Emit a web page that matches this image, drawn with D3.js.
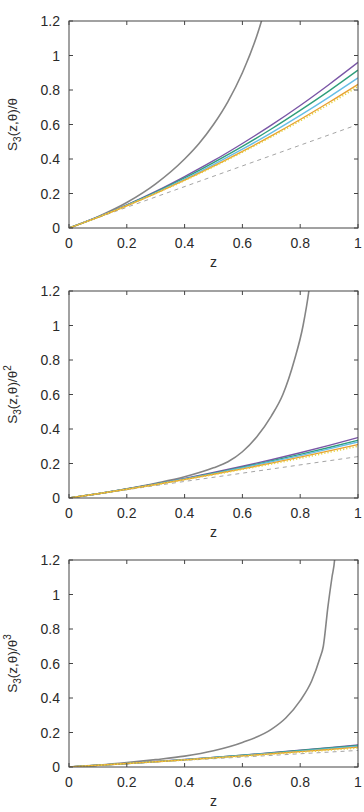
<!DOCTYPE html>
<html>
<head>
<meta charset="utf-8">
<script src="https://cdn.jsdelivr.net/npm/d3@7"></script>
<style>
  body { margin: 0; background: #fff; }
  text { font-family: "Liberation Sans", Arial, sans-serif; fill: #2a2a2a; }
</style>
</head>
<body>
<svg id="chart" width="364" height="812"></svg>
<script>
// z grid shared by the coloured curves
const zGrid = [0, 0.1, 0.2, 0.3, 0.4, 0.5, 0.6, 0.7, 0.8, 0.9, 1.0]
const xTicks = [0, 0.2, 0.4, 0.6, 0.8, 1]
const yTicks = [0, 0.2, 0.4, 0.6, 0.8, 1, 1.2]
const xTickLabels = ['0', '0.2', '0.4', '0.6', '0.8', '1']
const yTickLabels = ['0', '0.2', '0.4', '0.6', '0.8', '1', '1.2']
const powers = ['', '2', '3']

// panel 1 : S3/theta
const p1Purple = [0, .064, .134, .212, .298, .39, .49, .596, .71, .832, .96]
const p1Green  = [0, .063, .133, .208, .29, .379, .473, .574, .682, .795, .915]
const p1Blue   = [0, .063, .131, .204, .283, .368, .457, .552, .653, .759, .87]
const p1Orange = [0, .062, .129, .201, .277, .358, .444, .534, .629, .729, .833]
const p1Yellow = [0, .062, .129, .2, .275, .355, .439, .528, .621, .718, .82]
const p1GrayZ  = [0, .1, .2, .3, .4, .45, .5, .55, .6, .65, .7]
const p1Gray   = [0, .066, .148, .256, .4, .49, .6, .733, .9, 1.114, 1.4]
const p1Dashed = [0, 0.6]

// panel 2 : S3/theta^2
const p2Purple = [0, .025, .052, .082, .114, .148, .184, .222, .262, .305, .35]
const p2Green  = [0, .025, .052, .081, .111, .144, .178, .215, .253, .293, .335]
const p2Blue   = [0, .025, .051, .08, .11, .141, .175, .21, .246, .285, .325]
const p2Orange = [0, .025, .051, .078, .107, .138, .169, .202, .237, .273, .31]
const p2Yellow = [0, .025, .05, .077, .106, .135, .166, .197, .23, .265, .30]
const p2GrayZ  = [0, .1, .2, .3, .4, .5, .55, .6, .65, .7, .74, .78, .81, .83, .85]
const p2Gray   = [0, .025, .054, .086, .123, .175, .21, .268, .355, .475, .6, .8, 1.0, 1.2, 1.5]
const p2Dashed = [0, 0.24]

// panel 3 : S3/theta^3
const p3Purple = [0, .0099, .0205, .0317, .0435, .056, .069, .083, .097, .112, .128]
const p3Green  = [0, .0099, .0204, .0314, .043, .0553, .068, .0814, .0954, .1099, .125]
const p3Blue   = [0, .0098, .0202, .031, .0422, .054, .0662, .079, .0922, .1058, .12]
const p3Orange = [0, .0098, .02, .0305, .0414, .0528, .0644, .0765, .089, .1018, .115]
const p3Yellow = [0, .0097, .0198, .0301, .0406, .0515, .0626, .0741, .0858, .0977, .11]
const p3GrayZ  = [0, .1, .2, .3, .4, .5, .6, .7, .75, .8, .84, .868, .88, .896, .91, .919, .925]
const p3Gray   = [0, .011, .026, .043, .063, .094, .142, .218, .284, .385, .5, .63, .7, .93, 1.1, 1.2, 1.35]
const p3Dashed = [0, 0.096]

const colours = ['#7a56a6', '#2f9e7b', '#66bde6', '#e8a030', '#e6d240']

const panels = [
  { top: 21, colored: [p1Purple, p1Green, p1Blue, p1Orange, p1Yellow], grayZ: p1GrayZ, gray: p1Gray, dashed: p1Dashed },
  { top: 291, colored: [p2Purple, p2Green, p2Blue, p2Orange, p2Yellow], grayZ: p2GrayZ, gray: p2Gray, dashed: p2Dashed },
  { top: 560, colored: [p3Purple, p3Green, p3Blue, p3Orange, p3Yellow], grayZ: p3GrayZ, gray: p3Gray, dashed: p3Dashed }
]

const svg = d3.select('#chart')
const left = 69, right = 358, plotH = 207, tickLen = 4

panels.forEach((p, i) => {
  const x = d3.scaleLinear().domain([0, 1]).range([left, right])
  const y = d3.scaleLinear().domain([0, 1.2]).range([p.top + plotH, p.top])
  const g = svg.append('g')

  g.append('clipPath').attr('id', `clip${i}`)
    .append('rect')
    .attr('x', left).attr('y', p.top)
    .attr('width', right - left).attr('height', plotH)

  const plot = g.append('g').attr('clip-path', `url(#clip${i})`)
  const line = d3.line().x(d => x(d[0])).y(d => y(d[1])).curve(d3.curveMonotoneX)

  // gray limiting curve
  plot.append('path')
    .datum(p.grayZ.map((z, k) => [z, p.gray[k]]))
    .attr('d', line).attr('fill', 'none')
    .attr('stroke', '#858585').attr('stroke-width', 1.6)

  // dashed linear term
  plot.append('path')
    .datum([[0, p.dashed[0]], [1, p.dashed[1]]])
    .attr('d', line).attr('fill', 'none')
    .attr('stroke', '#9a9a9a').attr('stroke-width', 0.9)
    .attr('stroke-dasharray', '4,4')

  p.colored.forEach((vals, k) => {
    plot.append('path')
      .datum(zGrid.map((z, j) => [z, vals[j]]))
      .attr('d', line).attr('fill', 'none')
      .attr('stroke', colours[k])
      .attr('stroke-width', k === 4 ? 1.6 : 1.4)
      .attr('stroke-dasharray', k === 4 ? '1.2,2' : null)
  })

  // frame
  g.append('rect')
    .attr('x', left).attr('y', p.top)
    .attr('width', right - left).attr('height', plotH)
    .attr('fill', 'none').attr('stroke', '#444').attr('stroke-width', 1)

  // mirrored inward ticks
  const ticks = g.append('g').attr('stroke', '#444').attr('stroke-width', 1)
  xTicks.forEach(t => {
    ticks.append('line').attr('x1', x(t)).attr('x2', x(t))
      .attr('y1', y(0)).attr('y2', y(0) - tickLen)
    ticks.append('line').attr('x1', x(t)).attr('x2', x(t))
      .attr('y1', y(1.2)).attr('y2', y(1.2) + tickLen)
  })
  yTicks.forEach(t => {
    ticks.append('line').attr('x1', left).attr('x2', left + tickLen)
      .attr('y1', y(t)).attr('y2', y(t))
    ticks.append('line').attr('x1', right).attr('x2', right - tickLen)
      .attr('y1', y(t)).attr('y2', y(t))
  })

  xTicks.forEach((t, k) => {
    g.append('text').attr('x', x(t)).attr('y', y(0) + 20)
      .attr('text-anchor', 'middle').attr('font-size', 14)
      .text(xTickLabels[k])
  })
  yTicks.forEach((t, k) => {
    g.append('text').attr('x', left - 9).attr('y', y(t) + 5)
      .attr('text-anchor', 'end').attr('font-size', 14)
      .text(yTickLabels[k])
  })

  g.append('text').attr('x', (left + right) / 2).attr('y', y(0) + 39)
    .attr('text-anchor', 'middle').attr('font-size', 14).text('z')

  // rotated y label with sub/superscripts
  const yl = g.append('text')
    .attr('transform', `translate(17,${p.top + plotH / 2}) rotate(-90)`)
    .attr('text-anchor', 'middle').attr('font-size', 13.5)
  yl.append('tspan').text('S')
  yl.append('tspan').attr('dy', 4).attr('font-size', 10).text('3')
  yl.append('tspan').attr('dy', -4).text('(z,θ)/θ')
  if (powers[i]) yl.append('tspan').attr('dy', -6).attr('font-size', 10).text(powers[i])
})
</script>
</body>
</html>
